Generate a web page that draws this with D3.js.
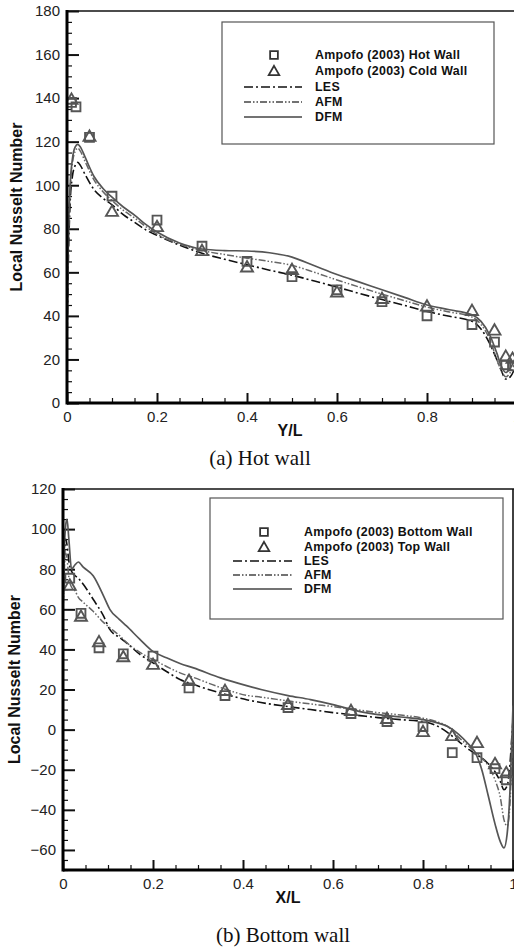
<!DOCTYPE html>
<html>
<head>
<meta charset="utf-8">
<script src="https://cdn.jsdelivr.net/npm/d3@7"></script>
<style>
  html, body { margin: 0; padding: 0; background: #fff; overflow: hidden; }
  svg { display: block; }
  text { font-family: "Liberation Sans", Arial, sans-serif; }
</style>
</head>
<body>
<svg id="fig" width="514" height="952"></svg>
<script>
// ---------- (a) Hot wall ----------
const hotExpX   = [0.01, 0.02, 0.05, 0.1, 0.2, 0.3, 0.4, 0.5, 0.6, 0.7, 0.8, 0.9, 0.95, 0.975, 0.99];
const hotExp    = [138, 136, 122, 95, 84, 72, 65, 58, 52, 46.5, 40, 36, 28, 17.5, 17];
const coldExpX  = [0.01, 0.05, 0.1, 0.2, 0.3, 0.4, 0.5, 0.6, 0.7, 0.8, 0.9, 0.95, 0.975, 0.99];
const coldExp   = [139, 122, 87.5, 80.5, 69.5, 62, 60.8, 50.5, 47.5, 44, 42, 33, 21, 20];

const hotX   = [0, 0.003, 0.007, 0.012, 0.018, 0.024, 0.03, 0.04, 0.06, 0.08, 0.1, 0.125, 0.15, 0.175, 0.2, 0.25, 0.3, 0.35, 0.4, 0.45, 0.5, 0.55, 0.6, 0.65, 0.7, 0.75, 0.8, 0.85, 0.9, 0.92, 0.94, 0.955, 0.965, 0.975, 0.985, 0.995, 1.0];
const hotLES = [25, 65, 92, 104, 109, 110.5, 109, 105, 98, 94, 91, 86.5, 83, 79.5, 77, 72.5, 68.8, 66, 63.5, 61, 58.7, 56, 53.2, 50.3, 47.5, 44.8, 42, 39.8, 37.5, 34, 27, 20, 15, 11, 12, 16, 19];
const hotAFM = [30, 72, 98, 110, 115.5, 117, 115.5, 111, 102.5, 97, 93, 88.5, 85, 81, 77.5, 73, 70, 68.2, 66.5, 65, 63.2, 60, 56.5, 53.2, 50, 47, 44, 41.8, 39.5, 36, 29, 20, 15, 12, 14, 18, 20];
const hotDFM = [30, 75, 100, 112, 117.5, 118.8, 117.5, 113, 104, 98.5, 94.5, 90, 86.3, 82, 78.5, 73.5, 70.7, 70, 69.8, 69, 67, 63, 59, 55.5, 52, 48.5, 45, 42.8, 40.5, 37.5, 31, 23, 17, 14, 16, 20, 22];

const hotXTicks = [0, 0.2, 0.4, 0.6, 0.8, 1];
const hotYTicks = [0, 20, 40, 60, 80, 100, 120, 140, 160, 180];

// ---------- (b) Bottom wall ----------
const botExpX = [0.015, 0.04, 0.08, 0.134, 0.2, 0.28, 0.36, 0.5, 0.64, 0.72, 0.8, 0.865, 0.92, 0.96, 0.985];
const botExp  = [75.5, 58, 40.8, 37.8, 36.7, 20.8, 17, 11, 8, 4, 1.5, -11.5, -14, -19.5, -25];
const topExp  = [71.5, 56, 43.3, 35.8, 32, 24, 19, 12, 9, 5, -1.5, -3.5, -7, -17.5, -22];

const botX   = [0, 0.003, 0.006, 0.009, 0.013, 0.019, 0.026, 0.034, 0.045, 0.067, 0.09, 0.104, 0.125, 0.141, 0.171, 0.2, 0.23, 0.26, 0.29, 0.35, 0.41, 0.44, 0.5, 0.55, 0.6, 0.66, 0.7, 0.75, 0.8, 0.83, 0.855, 0.88, 0.9, 0.915, 0.93, 0.945, 0.96, 0.972, 0.98, 0.987, 0.993, 0.997, 1.0];
const botLES = [60, 85, 95, 92, 84, 79, 77, 75.5, 72.5, 65, 56.7, 50, 46, 43.3, 37.5, 33.3, 29, 25, 22.5, 18.3, 14.8, 13.5, 11.5, 10, 8.5, 7, 6, 5, 4, 2, -1.5, -6, -9.5, -12, -14, -17, -21, -26, -30, -28, -18, -5, 5];
const botAFM = [55, 80, 88, 85, 76, 71, 69.5, 66, 63.5, 59, 53.5, 50.8, 47, 43.5, 38.5, 35, 31.5, 28.3, 26, 21, 17, 16.2, 14.3, 12.8, 11.5, 9.7, 8.5, 7.3, 5.7, 4, 1.5, -4, -8, -11, -14, -18, -25, -34, -45, -48, -38, -15, 5];
const botDFM = [60, 90, 102, 105, 95, 80, 82, 83.6, 81, 76.7, 66.7, 60, 55, 51.7, 45, 39, 35.8, 33, 30.8, 25.8, 21.8, 20, 17, 15, 12.5, 9, 7.5, 6.3, 5, 3.5, 1.5, -2.5, -7, -11, -19.5, -33, -47, -56, -59, -52, -32, -8, 12];

const botXTicks = [0, 0.2, 0.4, 0.6, 0.8, 1];
const botYTicks = [-60, -40, -20, 0, 20, 40, 60, 80, 100, 120];

// ---------- styles ----------
const styles = {
  LES: { color: "#111", width: 1.6, dash: "9,3,2,3" },
  AFM: { color: "#666", width: 1.5, dash: "7,2,1.5,2,1.5,2" },
  DFM: { color: "#555", width: 1.7, dash: null }
};
const markerColor = "#555";

const svg = d3.select("#fig");

function panel(cfg) {
  const x = d3.scaleLinear().domain([0, 1]).range([cfg.left, cfg.right]);
  const y = d3.scaleLinear().domain(cfg.yDomain).range([cfg.bottom, cfg.top]);
  const g = svg.append("g");

  const clipId = "clip-" + cfg.id;
  g.append("clipPath").attr("id", clipId)
    .append("rect")
    .attr("x", cfg.left).attr("y", cfg.top)
    .attr("width", cfg.right - cfg.left).attr("height", cfg.bottom - cfg.top);

  // minor ticks
  const minorX = d3.range(0, 1.0001, 0.05).filter(v => Math.abs(v * 5 - Math.round(v * 5)) > 1e-6);
  const minorY = d3.range(cfg.yDomain[0], cfg.yDomain[1] + 0.001, 5).filter(v => v % 20 !== 0);

  g.append("g").attr("transform", `translate(0,${cfg.bottom})`)
    .call(d3.axisBottom(x).tickValues(minorX).tickSize(-5).tickFormat(""))
    .call(s => s.select(".domain").remove())
    .call(s => s.selectAll("line").attr("stroke", "#111").attr("stroke-width", 1.2));
  g.append("g").attr("transform", `translate(${cfg.left},0)`)
    .call(d3.axisLeft(y).tickValues(minorY).tickSize(-5).tickFormat(""))
    .call(s => s.select(".domain").remove())
    .call(s => s.selectAll("line").attr("stroke", "#111").attr("stroke-width", 1.2));

  // major ticks with labels
  const xAxis = g.append("g").attr("transform", `translate(0,${cfg.bottom})`)
    .call(d3.axisBottom(x).tickValues(cfg.xTicks).tickSize(-10).tickPadding(6)
      .tickFormat(d => d === 0 ? "0" : d === 1 ? "1" : d3.format(".1f")(d)));
  const yAxis = g.append("g").attr("transform", `translate(${cfg.left},0)`)
    .call(d3.axisLeft(y).tickValues(cfg.yTicks).tickSize(-12).tickPadding(7).tickFormat(d3.format("d")));
  [xAxis, yAxis].forEach(a => {
    a.select(".domain").remove();
    a.selectAll("line").attr("stroke", "#111").attr("stroke-width", 2);
    a.selectAll("text").attr("font-size", 15).attr("fill", "#222")
      .attr("font-family", '"Liberation Sans", Arial, sans-serif');
  });
  xAxis.selectAll("text").attr("dy", "0.85em");

  // frame
  g.append("line").attr("x1", cfg.left).attr("x2", cfg.right + 2).attr("y1", cfg.top).attr("y2", cfg.top)
    .attr("stroke", "#111").attr("stroke-width", 1.6);
  g.append("line").attr("x1", cfg.right).attr("x2", cfg.right).attr("y1", cfg.top).attr("y2", cfg.bottom)
    .attr("stroke", "#111").attr("stroke-width", 1.6);

  // legend box
  const L = cfg.legend;
  g.append("rect").attr("x", L.x0).attr("y", L.y0).attr("width", L.x1 - L.x0).attr("height", L.y1 - L.y0)
    .attr("fill", "#fff").attr("stroke", "#555").attr("stroke-width", 1.2);

  // curves
  const curves = g.append("g").attr("clip-path", `url(#${clipId})`);
  const line = d3.line().x(d => x(d[0])).y(d => y(d[1])).curve(d3.curveMonotoneX);
  cfg.series.forEach(s => {
    const st = styles[s.name];
    curves.append("path")
      .attr("d", line(s.x.map((v, i) => [v, s.y[i]])))
      .attr("fill", "none").attr("stroke", st.color).attr("stroke-width", st.width)
      .attr("stroke-dasharray", st.dash).attr("stroke-linejoin", "round");
  });

  // experimental markers
  const sq = d3.symbol().type(d3.symbolSquare).size(78);
  const tri = d3.symbol().type(d3.symbolTriangle).size(62);
  const mk = g.append("g").attr("clip-path", `url(#${clipId})`);
  cfg.exp[0].x.forEach((v, i) => {
    mk.append("path").attr("d", sq()).attr("transform", `translate(${x(v)},${y(cfg.exp[0].y[i])})`)
      .attr("fill", "none").attr("stroke", markerColor).attr("stroke-width", 1.9);
  });
  cfg.exp[1].x.forEach((v, i) => {
    mk.append("path").attr("d", tri()).attr("transform", `translate(${x(v)},${y(cfg.exp[1].y[i])})`)
      .attr("fill", "none").attr("stroke", markerColor).attr("stroke-width", 1.9);
  });

  // axis lines (thick left and bottom)
  g.append("line").attr("x1", cfg.left).attr("x2", cfg.right + 2).attr("y1", cfg.bottom).attr("y2", cfg.bottom)
    .attr("stroke", "#000").attr("stroke-width", 3);
  g.append("line").attr("x1", cfg.left).attr("x2", cfg.left).attr("y1", cfg.top - 1).attr("y2", cfg.bottom + 1.5)
    .attr("stroke", "#000").attr("stroke-width", 3);

  // legend entries
  const lg = g.append("g");
  const txt = (yy, label) => lg.append("text").attr("x", L.tx).attr("y", yy).attr("dy", "0.36em")
    .attr("font-size", 12.4).attr("letter-spacing", 0.3).attr("font-weight", "bold")
    .attr("fill", "#111").text(label);
  lg.append("path").attr("d", d3.symbol().type(d3.symbolSquare).size(60)())
    .attr("transform", `translate(${L.mx},${L.rows[0]})`)
    .attr("fill", "none").attr("stroke", "#333").attr("stroke-width", 1.8);
  txt(L.rows[0], cfg.exp[0].label);
  lg.append("path").attr("d", d3.symbol().type(d3.symbolTriangle).size(48)())
    .attr("transform", `translate(${L.mx},${L.rows[1] + 1})`)
    .attr("fill", "none").attr("stroke", "#333").attr("stroke-width", 1.8);
  txt(L.rows[1], cfg.exp[1].label);
  ["LES", "AFM", "DFM"].forEach((n, i) => {
    const st = styles[n];
    const yy = L.rows[i + 2];
    lg.append("line").attr("x1", L.lx0).attr("x2", L.lx1).attr("y1", yy).attr("y2", yy)
      .attr("stroke", n === "LES" ? "#111" : "#444").attr("stroke-width", st.width)
      .attr("stroke-dasharray", st.dash);
    txt(yy, n);
  });

  // axis titles and caption
  svg.append("text").attr("transform", `translate(${cfg.yTitleX},${(cfg.top + cfg.bottom) / 2}) rotate(-90)`)
    .attr("text-anchor", "middle").attr("dy", "0.35em")
    .attr("font-size", 16).attr("font-weight", "bold").attr("fill", "#111").text("Local Nusselt Number");
  svg.append("text").attr("x", cfg.xTitle[0]).attr("y", cfg.xTitle[1]).attr("text-anchor", "middle")
    .attr("font-size", 16).attr("font-weight", "bold").attr("fill", "#111").text(cfg.xTitleText);
  svg.append("text").attr("x", cfg.caption[0]).attr("y", cfg.caption[1]).attr("text-anchor", "middle")
    .style("font-family", '"Liberation Serif", "Times New Roman", serif')
    .attr("font-size", 21).attr("fill", "#111").text(cfg.captionText);
}

panel({
  id: "hot", left: 67, right: 517, top: 11, bottom: 403, yDomain: [0, 180],
  xTicks: hotXTicks, yTicks: hotYTicks,
  series: [
    { name: "LES", x: hotX, y: hotLES },
    { name: "AFM", x: hotX, y: hotAFM },
    { name: "DFM", x: hotX, y: hotDFM }
  ],
  exp: [
    { label: "Ampofo (2003) Hot Wall", x: hotExpX, y: hotExp },
    { label: "Ampofo (2003) Cold Wall", x: coldExpX, y: coldExp }
  ],
  legend: { x0: 222, y0: 22, x1: 494, y1: 144, mx: 274, tx: 315, lx0: 244, lx1: 302, rows: [55, 71, 87, 102, 117] },
  yTitleX: 16, xTitle: [290, 436], xTitleText: "Y/L",
  caption: [260, 465], captionText: "(a) Hot wall"
});

panel({
  id: "bot", left: 63, right: 513, top: 489, bottom: 870, yDomain: [-70, 120],
  xTicks: botXTicks, yTicks: botYTicks,
  series: [
    { name: "LES", x: botX, y: botLES },
    { name: "AFM", x: botX, y: botAFM },
    { name: "DFM", x: botX, y: botDFM }
  ],
  exp: [
    { label: "Ampofo (2003) Bottom Wall", x: botExpX, y: botExp },
    { label: "Ampofo (2003) Top Wall", x: botExpX, y: topExp }
  ],
  legend: { x0: 210, y0: 498, x1: 503, y1: 619, mx: 264, tx: 304, lx0: 233, lx1: 292, rows: [532, 547, 561, 575, 589] },
  yTitleX: 14, xTitle: [288, 903], xTitleText: "X/L",
  caption: [283, 942], captionText: "(b) Bottom wall"
});
</script>
</body>
</html>
